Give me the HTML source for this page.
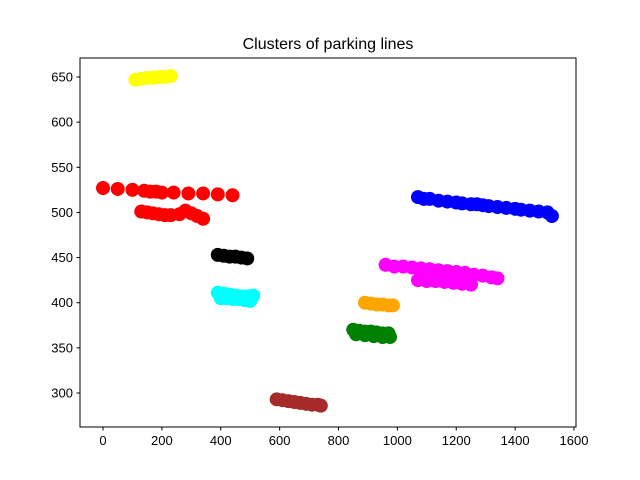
<!DOCTYPE html>
<html><head><meta charset="utf-8"><style>
body{margin:0;background:#fff;}
svg{display:block;font-family:"Liberation Sans","DejaVu Sans",sans-serif;}
</style></head><body>
<svg id="chart" width="640" height="480">
<rect width="640" height="480" fill="#fff"/>
<text x="328" y="49" text-anchor="middle" font-size="16">Clusters of parking lines</text>
<g id="marks"></g>
<rect x="80" y="58" width="496" height="369" fill="none" stroke="#000" stroke-width="1"/>
<g id="axes"></g>
</svg>
<script>
const xTicks=[0,200,400,600,800,1000,1200,1400,1600];
const yTicks=[300,350,400,450,500,550,600,650];
const clusterNames=["yellow","red","black","cyan","blue","magenta","orange","green","brown"];
const yellowX=[110,130,150,170,190,210,230];
const yellowY=[647,648,649,649,650,650,651];
const redX=[0,50,100,140,160,180,200,240,290,340,390,440,130,150,170,190,210,230,260,280,300,320,340];
const redY=[527,526,525,524,523,523,522,522,521,521,520,519,501,500,499,498,497,497,498,502,499,496,493];
const blackX=[390,410,430,450,470,490];
const blackY=[453,452,451,451,450,449];
const cyanX=[390,410,430,450,470,490,510,400,420,440,460,480,500];
const cyanY=[411,410,409,408,407,407,408,405,405,404,404,403,402];
const blueX=[1070,1090,1110,1140,1170,1200,1220,1250,1270,1290,1310,1340,1370,1400,1420,1450,1480,1510,1525];
const blueY=[517,515,515,513,512,511,510,509,509,508,507,506,505,504,503,502,501,500,496];
const magentaX=[960,990,1020,1050,1080,1110,1140,1170,1200,1230,1260,1290,1320,1340,1070,1100,1130,1160,1190,1220,1250];
const magentaY=[442,440,440,439,438,437,436,435,434,433,431,430,428,427,425,424,424,423,422,421,420];
const orangeX=[890,910,930,950,970,985];
const orangeY=[400,399,398,398,397,397];
const greenX=[850,870,890,910,930,950,970,860,890,920,950,975];
const greenY=[370,369,368,368,367,366,366,365,364,363,362,362];
const brownX=[590,610,630,650,670,690,710,730,740];
const brownY=[293,292,291,290,289,288,287,287,286];
const colors={yellow:"#ffff00",red:"#ff0000",black:"#000000",cyan:"#00ffff",blue:"#0000ff",magenta:"#ff00ff",orange:"#ffa500",green:"#008000",brown:"#a52a2a"};
const series={yellow:[yellowX,yellowY],red:[redX,redY],black:[blackX,blackY],cyan:[cyanX,cyanY],blue:[blueX,blueY],magenta:[magentaX,magentaY],orange:[orangeX,orangeY],green:[greenX,greenY],brown:[brownX,brownY]};
function sx(v){return 103+v*(574-103)/1600;}
function sy(v){return 77+(650-v)*(393-77)/350;}
const NS="http://www.w3.org/2000/svg";
const marks=document.getElementById("marks");
clusterNames.forEach(n=>{
  const g=document.createElementNS(NS,"g");
  
  
  const [xs,ys]=series[n];
  xs.forEach((x,i)=>{
    const c=document.createElementNS(NS,"circle");
    c.setAttribute("cx",sx(x));c.setAttribute("cy",sy(ys[i]));c.setAttribute("r",7);
    c.setAttribute("fill",colors[n]);
    
    
    g.appendChild(c);
  });
  marks.appendChild(g);
});
const axes=document.getElementById("axes");
xTicks.forEach(t=>{
  const x=sx(t);
  const l=document.createElementNS(NS,"line");
  l.setAttribute("x1",x);l.setAttribute("x2",x);l.setAttribute("y1",427);l.setAttribute("y2",430.5);l.setAttribute("stroke","#000");
  
  
  axes.appendChild(l);
  const tx=document.createElementNS(NS,"text");
  tx.setAttribute("x",x);tx.setAttribute("y",445);tx.setAttribute("text-anchor","middle");tx.setAttribute("font-size","13");
  tx.textContent=t;
  
  
  axes.appendChild(tx);
});
yTicks.forEach(t=>{
  const y=sy(t);
  const l=document.createElementNS(NS,"line");
  l.setAttribute("x1",76.5);l.setAttribute("x2",80);l.setAttribute("y1",y);l.setAttribute("y2",y);l.setAttribute("stroke","#000");
  
  
  axes.appendChild(l);
  const tx=document.createElementNS(NS,"text");
  tx.setAttribute("x",73);tx.setAttribute("y",y+4.5);tx.setAttribute("text-anchor","end");tx.setAttribute("font-size","13");
  tx.textContent=t;
  
  
  axes.appendChild(tx);
});
</script>
</body></html>
